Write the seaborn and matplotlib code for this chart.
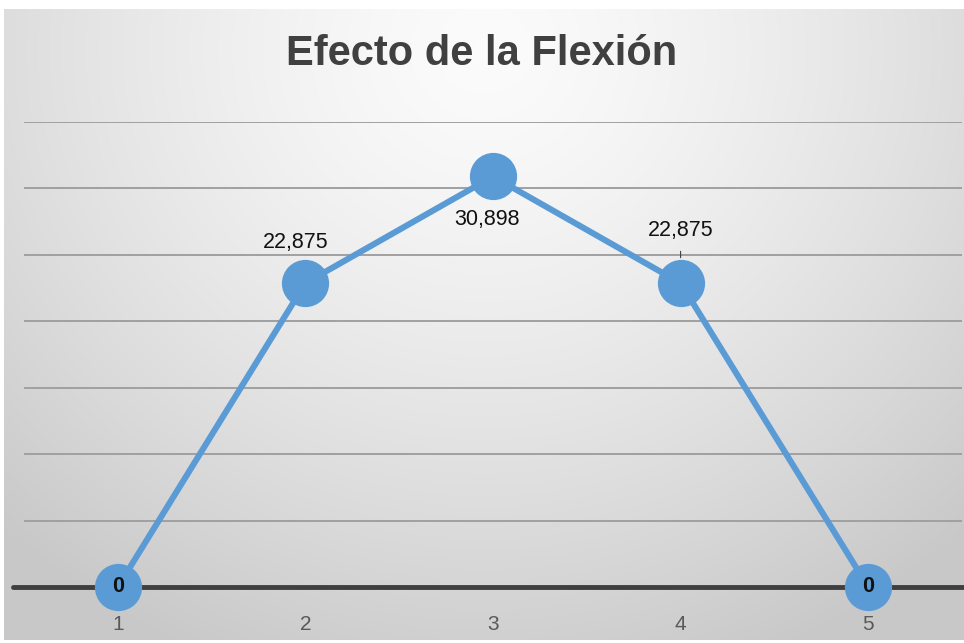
import numpy as np
import pandas as pd
import matplotlib
matplotlib.use("Agg")
import matplotlib.pyplot as plt
import seaborn as sns

# Datos del gráfico
puntos = [1, 2, 3, 4, 5]
flexion = [0, 22.875, 30.898, 22.875, 0]
etiquetas = ["0", "22,875", "30,898", "22,875", "0"]
titulo = "Efecto de la Flexión"

sns.set_theme(style="white")
plt.rcParams["font.family"] = ["Liberation Sans", "DejaVu Sans"]

W, H = 964, 643
fig = plt.figure(figsize=(W / 100, H / 100), dpi=100)
fig.patch.set_facecolor("white")

# Fondo con degradado radial (claro arriba al centro, gris en los bordes)
bg = fig.add_axes([4 / W, 3 / H, (W - 4) / W, (H - 12) / H], zorder=-10)
yy, xx = np.mgrid[0:631, 0:960]
cx, cy = 480, 40
r = np.sqrt(((xx - cx) / 1.0) ** 2 + ((yy - cy) / 0.95) ** 2)
t = np.clip(r / 700, 0, 1)
val = 0.985 - 0.20 * t ** 1.4
bg.imshow(np.dstack([val, val, val]), aspect="auto", extent=[0, 1, 0, 1], origin="upper")
bg.axis("off")

# Área de trazado
x_left, x_right = 24, 962
y_bot, y_top = 587, 122
ax = fig.add_axes([x_left / W, (H - y_bot) / H, (x_right - x_left) / W, (y_bot - y_top) / H])
ax.patch.set_alpha(0)

df = pd.DataFrame({"punto": puntos, "flexion": flexion})

ax.set_xlim(0.5, 5.5)
ax.set_ylim(0, 35)
ax.set_yticks(np.arange(0, 36, 5))
ax.yaxis.grid(True, color="#a0a0a0", linewidth=1.4)
ax.set_axisbelow(True)
for s in ax.spines.values():
    s.set_visible(False)

# Eje horizontal en cero
ax.axhline(0, xmin=-0.012, xmax=1.003, color="#3f3f3f", linewidth=3.5, zorder=1.8, clip_on=False)

color = "#5b9bd5"
sns.lineplot(data=df, x="punto", y="flexion", ax=ax, color=color, linewidth=4.4,
             marker="o", markersize=34, markeredgecolor=color, markeredgewidth=0,
             zorder=3, clip_on=False)

ax.set_xticks(puntos)
ax.set_xticklabels([str(p) for p in puntos], fontsize=15, color="#595959")
ax.tick_params(axis="x", length=0, pad=20)
ax.set_yticklabels([])
ax.tick_params(axis="y", length=0)
ax.set_xlabel("")
ax.set_ylabel("")

# Etiquetas de datos
offsets = [(0, 0), (-7, 29), (-4, -31), (0, 38), (0, 0)]
for x, y, lab, (dx, dy) in zip(puntos, flexion, etiquetas, offsets):
    ax.annotate(lab, (x, y), xytext=(dx, dy), textcoords="offset points",
                ha="center", va="center", fontsize=15.5, color="#111111",
                fontweight="bold" if y == 0 else "medium", zorder=5, annotation_clip=False)

# Línea guía de la etiqueta del punto 4
ax.annotate("", xy=(4, flexion[3] + 1.7), xytext=(4, flexion[3] + 2.6),
            arrowprops=dict(arrowstyle="-", color="#404040", lw=0.8), zorder=5)

fig.text(0.5, 1 - 54 / H, titulo, ha="center", va="center", fontsize=30,
         fontweight="bold", color="#404040")

fig.savefig("out.png", dpi=100)
